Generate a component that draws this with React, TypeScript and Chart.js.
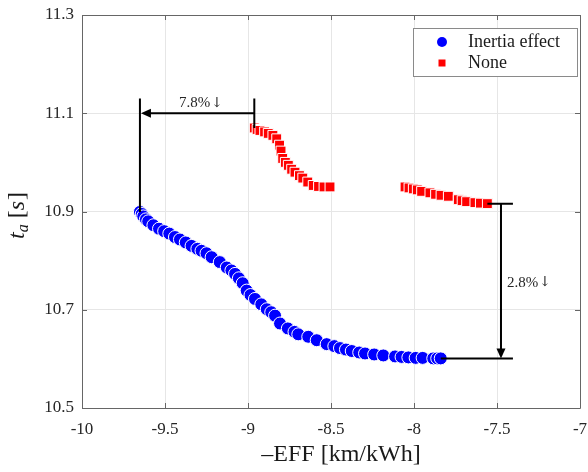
import React, { useEffect, useRef } from "react";
import { Chart, registerables } from "chart.js";

Chart.register(...registerables);

// Inertia effect series (−EFF, t_a)
const inertiaX = [
  -9.651, -9.64, -9.631, -9.615, -9.601, -9.57, -9.536, -9.505, -9.474, -9.44,
  -9.41, -9.375, -9.34, -9.305, -9.28, -9.25, -9.219, -9.17, -9.128, -9.1,
  -9.078, -9.055, -9.032, -9.008, -8.985, -8.958, -8.92, -8.887, -8.86, -8.837,
  -8.807, -8.76, -8.72, -8.697, -8.637, -8.586, -8.526, -8.48, -8.446, -8.41,
  -8.375, -8.33, -8.295, -8.24, -8.185, -8.114, -8.075, -8.034, -7.99, -7.948,
  -7.884, -7.86, -7.839,
];
const inertiaY = [
  10.899, 10.895, 10.89, 10.884, 10.88, 10.872, 10.865, 10.86, 10.855, 10.848,
  10.843, 10.837, 10.83, 10.824, 10.82, 10.815, 10.807, 10.797, 10.786, 10.78,
  10.773, 10.764, 10.754, 10.739, 10.73, 10.722, 10.711, 10.701, 10.695, 10.688,
  10.672, 10.662, 10.655, 10.65, 10.645, 10.638, 10.63, 10.626, 10.622, 10.619,
  10.616, 10.613, 10.611, 10.609, 10.607, 10.605, 10.604, 10.603, 10.602, 10.602,
  10.601, 10.601, 10.601,
];

// Baseline series without inertia effect
const noneX = [
  -8.962, -8.945, -8.928, -8.9, -8.878, -8.85, -8.827, -8.81, -8.801, -8.791,
  -8.775, -8.757, -8.737, -8.717, -8.69, -8.67, -8.64, -8.607, -8.575, -8.542,
  -8.506,
  -8.054, -8.03, -8.004, -7.98, -7.954, -7.904, -7.87, -7.837, -7.793, -7.733,
  -7.71, -7.683, -7.633, -7.6, -7.558,
];
const noneY = [
  11.07, 11.067, 11.065, 11.062, 11.059, 11.055, 11.048, 11.035, 11.023, 11.008,
  11.0, 10.994, 10.986, 10.98, 10.973, 10.968, 10.96, 10.953, 10.951, 10.95,
  10.95,
  10.95, 10.948, 10.946, 10.944, 10.941, 10.938, 10.935, 10.933, 10.931, 10.924,
  10.922, 10.92, 10.918, 10.917, 10.916,
];

const seriesNames = ["Inertia effect", "None"];
const xTitle = "\u2013EFF [km/kWh]";

// Percentage annotations (text + down arrow)
const effArrow = { y: 11.1, top: 11.13, label: "7.8%", labelX: -9.283, labelY: 11.12 };
const taArrow = { x: -7.476, end: -7.404, label: "2.8%", labelX: -7.44, labelY: 10.755 };
const DOWN = "\u2193";

const SERIF = '"Liberation Serif", "Times New Roman", serif';
const ARROW_FONT = '"DejaVu Serif", "DejaVu Sans", serif';
const BLUE = "#0000ff";
const RED = "#ff0000";

function arrowHead(ctx: CanvasRenderingContext2D, x: number, y: number, dir: "left" | "down") {
  ctx.beginPath();
  if (dir === "left") {
    ctx.moveTo(x, y);
    ctx.lineTo(x + 10, y - 4.5);
    ctx.lineTo(x + 10, y + 4.5);
  } else {
    ctx.moveTo(x, y);
    ctx.lineTo(x - 4.5, y - 10);
    ctx.lineTo(x + 4.5, y - 10);
  }
  ctx.closePath();
  ctx.fill();
}

// percentage label followed by a down arrow; x is the left edge
function pctLabel(ctx: CanvasRenderingContext2D, text: string, x: number, y: number) {
  ctx.textAlign = "left";
  ctx.textBaseline = "middle";
  ctx.font = `15px ${SERIF}`;
  ctx.fillText(text, x, y);
  const w = ctx.measureText(text).width;
  ctx.font = `14px ${ARROW_FONT}`;
  ctx.fillText(DOWN, x + w + 1, y);
}

function pctWidth(ctx: CanvasRenderingContext2D, text: string) {
  ctx.font = `15px ${SERIF}`;
  const a = ctx.measureText(text).width;
  ctx.font = `14px ${ARROW_FONT}`;
  return a + 1 + ctx.measureText(DOWN).width;
}

const framePlugin = {
  id: "frame",
  afterDatasetsDraw(chart: any) {
    const ctx: CanvasRenderingContext2D = chart.ctx;
    const xs = chart.scales.x;
    const ys = chart.scales.y;
    const { left, right, top, bottom } = chart.chartArea;
    const X = (v: number) => xs.getPixelForValue(v);
    const Y = (v: number) => ys.getPixelForValue(v);

    ctx.save();

    // annotations
    ctx.strokeStyle = "#000";
    ctx.fillStyle = "#000";
    ctx.lineWidth = 2;
    const bx0 = X(inertiaX[0]);
    const rx0 = X(noneX[0]);
    ctx.beginPath();
    ctx.moveTo(bx0, Y(effArrow.top));
    ctx.lineTo(bx0, Y(inertiaY[0]));
    ctx.moveTo(rx0, Y(effArrow.top));
    ctx.lineTo(rx0, Y(noneY[0]));
    ctx.moveTo(rx0, Y(effArrow.y));
    ctx.lineTo(bx0 + 8, Y(effArrow.y));
    ctx.stroke();
    arrowHead(ctx, bx0 + 1, Y(effArrow.y), "left");

    const rLast = noneX.length - 1;
    const bLast = inertiaX.length - 1;
    const ax = X(taArrow.x);
    const yTop = Y(noneY[rLast]);
    const yBot = Y(inertiaY[bLast]);
    ctx.beginPath();
    ctx.moveTo(X(noneX[rLast]), yTop);
    ctx.lineTo(X(taArrow.end), yTop);
    ctx.moveTo(X(inertiaX[bLast]), yBot);
    ctx.lineTo(X(taArrow.end), yBot);
    ctx.moveTo(ax, yTop);
    ctx.lineTo(ax, yBot - 8);
    ctx.stroke();
    arrowHead(ctx, ax, yBot, "down");

    ctx.fillStyle = "#262626";
    const ew = pctWidth(ctx, effArrow.label);
    pctLabel(ctx, effArrow.label, X(effArrow.labelX) - ew / 2, Y(effArrow.labelY));
    pctLabel(ctx, taArrow.label, X(taArrow.labelX), Y(taArrow.labelY));

    // axes box with inward ticks on every side
    ctx.strokeStyle = "#666";
    ctx.lineWidth = 1;
    ctx.beginPath();
    ctx.rect(Math.round(left) + 0.5, Math.round(top) + 0.5, Math.round(right - left), Math.round(bottom - top));
    for (const t of xs.ticks) {
      const p = Math.round(X(t.value)) + 0.5;
      ctx.moveTo(p, bottom);
      ctx.lineTo(p, bottom - 5);
      ctx.moveTo(p, top);
      ctx.lineTo(p, top + 5);
    }
    for (const t of ys.ticks) {
      const p = Math.round(Y(t.value)) + 0.5;
      ctx.moveTo(left, p);
      ctx.lineTo(left + 5, p);
      ctx.moveTo(right, p);
      ctx.lineTo(right - 5, p);
    }
    ctx.stroke();

    // legend
    const lx0 = right - 167;
    const ly0 = top + 13;
    ctx.fillStyle = "#fff";
    ctx.fillRect(lx0, ly0, 164, 48);
    ctx.strokeStyle = "#8a8a8a";
    ctx.strokeRect(lx0 + 0.5, ly0 + 0.5, 164, 48);
    const ds = chart.data.datasets;
    ctx.fillStyle = ds[0].backgroundColor;
    ctx.beginPath();
    ctx.arc(lx0 + 29, ly0 + 14, 5, 0, Math.PI * 2);
    ctx.fill();
    ctx.fillStyle = ds[1].backgroundColor;
    ctx.fillRect(lx0 + 25.5, ly0 + 31.5, 7, 7);
    ctx.fillStyle = "#1a1a1a";
    ctx.font = `18px ${SERIF}`;
    ctx.textAlign = "left";
    ctx.textBaseline = "middle";
    ctx.fillText(ds[0].label, lx0 + 55, ly0 + 14);
    ctx.fillText(ds[1].label, lx0 + 55, ly0 + 35);

    // axis titles
    ctx.fillStyle = "#1a1a1a";
    ctx.font = `24px ${SERIF}`;
    ctx.textAlign = "center";
    ctx.textBaseline = "middle";
    ctx.fillText(xTitle, (left + right) / 2 + 10, 455);

    ctx.translate(24, 239);
    ctx.rotate(-Math.PI / 2);
    ctx.textAlign = "left";
    ctx.textBaseline = "alphabetic";
    let w = 0;
    ctx.font = `italic 24px ${SERIF}`;
    ctx.fillText("t", w, 0);
    w += ctx.measureText("t").width;
    ctx.font = `italic 16px ${SERIF}`;
    ctx.fillText("a", w, 4);
    w += ctx.measureText("a").width;
    ctx.font = `24px ${SERIF}`;
    ctx.fillText(" [", w, 0);
    w += ctx.measureText(" [").width;
    ctx.font = `italic 24px ${SERIF}`;
    ctx.fillText("s", w, 0);
    w += ctx.measureText("s").width + 1;
    ctx.font = `24px ${SERIF}`;
    ctx.fillText("]", w, 0);

    ctx.restore();
  },
};

export default function App() {
  const ref = useRef<HTMLCanvasElement>(null);

  useEffect(() => {
    if (!ref.current) return;
    const chart = new Chart(ref.current, {
      type: "scatter",
      data: {
        datasets: [
          {
            label: seriesNames[0],
            data: inertiaX.map((x, i) => ({ x, y: inertiaY[i] })),
            backgroundColor: BLUE,
            borderColor: "#ffffff",
            borderWidth: 1,
            pointRadius: 6.5,
            pointStyle: "circle",
          },
          {
            label: seriesNames[1],
            data: noneX.map((x, i) => ({ x, y: noneY[i] })),
            backgroundColor: RED,
            borderColor: "#ffffff",
            borderWidth: 1,
            pointRadius: 7,
            pointStyle: "rect",
          },
        ],
      },
      options: {
        responsive: false,
        animation: false,
        events: [],
        layout: { padding: { top: 15, right: 8, left: 0, bottom: 0 } },
        plugins: { legend: { display: false }, tooltip: { enabled: false } },
        scales: {
          x: {
            type: "linear",
            min: -10,
            max: -7,
            afterFit: (s: any) => {
              s.height = 64;
              s.paddingLeft = 0;
              s.paddingRight = 0;
            },
            ticks: {
              stepSize: 0.5,
              padding: 11,
              color: "#262626",
              font: { family: SERIF, size: 17 },
              maxRotation: 0,
              callback: (v: any) => String(Number(v)),
            },
            grid: { color: "#e6e6e6", drawTicks: false },
            border: { display: false },
          },
          y: {
            type: "linear",
            min: 10.5,
            max: 11.3,
            afterFit: (s: any) => {
              s.width = 82;
              s.paddingTop = 0;
              s.paddingBottom = 0;
            },
            ticks: {
              stepSize: 0.2,
              padding: 8,
              color: "#262626",
              font: { family: SERIF, size: 17 },
              callback: (v: any) => Number(v).toFixed(1),
            },
            grid: { color: "#e6e6e6", drawTicks: false },
            border: { display: false },
          },
        },
      },
      plugins: [framePlugin],
    });
    return () => chart.destroy();
  }, []);

  return (
    <div style={{ position: "fixed", left: 0, top: 0, width: 588, height: 472, background: "#fff" }}>
      <canvas ref={ref} width={588} height={472} style={{ display: "block" }} />
    </div>
  );
}
